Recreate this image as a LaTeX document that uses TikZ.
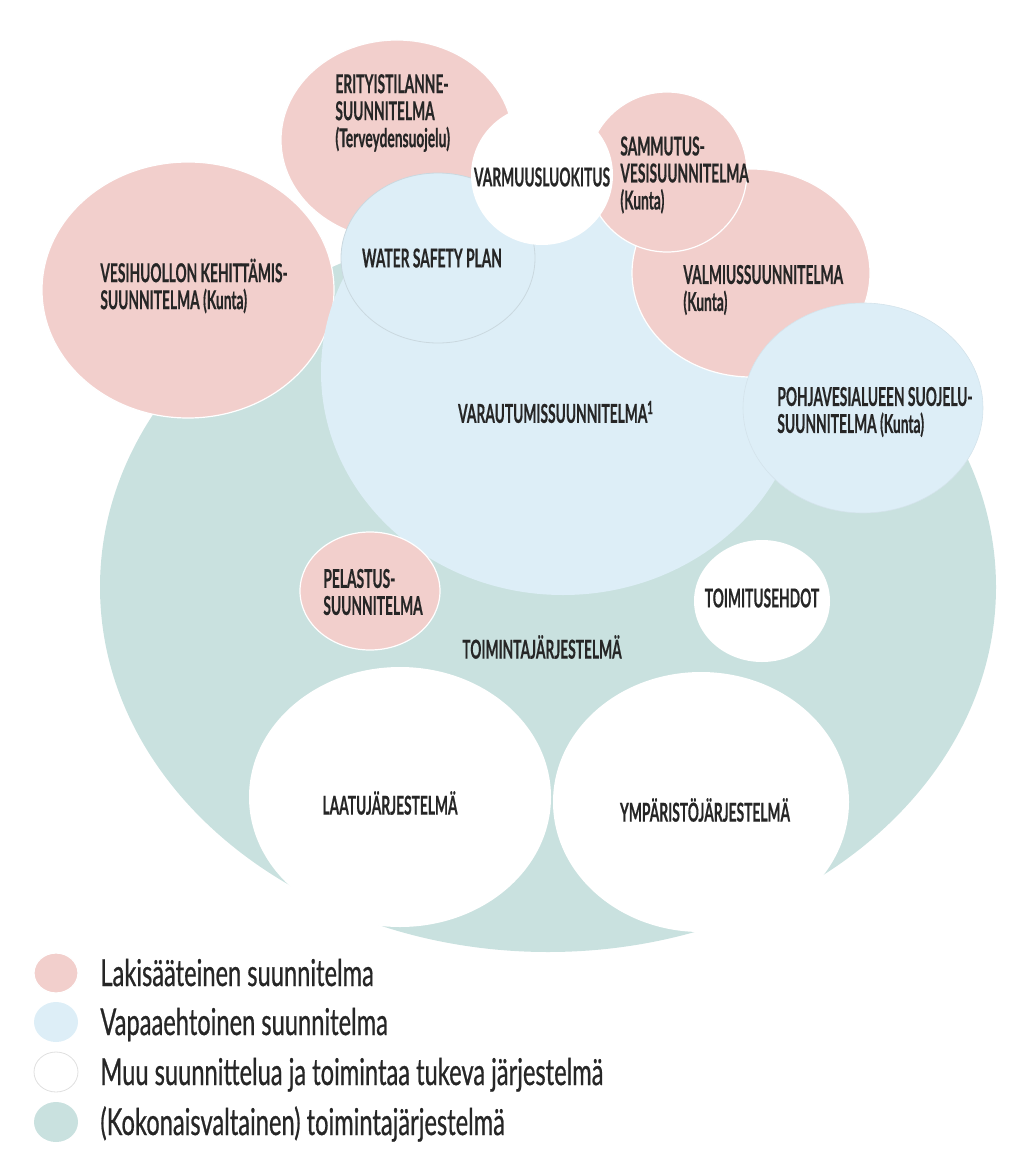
\documentclass[tikz,border=0pt]{standalone}
\usepackage{fontspec}
\newfontfamily\lblfont{Lato}[FakeStretch=0.53, FakeBold=0.4]
\newfontfamily\legfont{Lato}[FakeStretch=0.64, FakeBold=0.6]
\usepackage{tikz}
\usetikzlibrary{shapes.geometric}

\definecolor{lakipink}{HTML}{F2CFCC}
\definecolor{vapaablue}{HTML}{DDEEF7}
\definecolor{kokoteal}{HTML}{C9E1DF}
\definecolor{inkgray}{HTML}{262626}

\begin{document}
\begin{tikzpicture}[x=0.5pt, y=-0.5pt,
    bubble/.style 2 args={ellipse, inner sep=0pt, minimum width=#1pt, minimum height=#2pt},
    laki/.style={fill=lakipink, draw=white, line width=0.6pt},
    vapaa/.style={fill=vapaablue},
    muu/.style={fill=white},
    koko/.style={fill=kokoteal},
    lbl/.style={font=\lblfont\bfseries\fontsize{13}{13.5}\selectfont, text=inkgray, align=left, anchor=west, inner sep=0pt},
    ctr/.style={lbl, anchor=center, align=center},
    legtxt/.style={font=\legfont\fontsize{18.5}{20}\selectfont, text=inkgray, anchor=base west, inner sep=0pt}]
    \useasboundingbox (0,0) rectangle (1024,1172);
    % bubbles, back to front
    \path
        node at (548,587) [bubble={448}{365}, koko] (toiminta) {}
        node at (188,290) [bubble={146}{128}, laki] (vesihuolto) {}
        node at (563,372) [bubble={242}{223}, vapaa] (varautumis) {}
        node at (397,140) [bubble={116}{100}, laki] (erityis) {}
        node at (438,258) [bubble={97}{85}, vapaa, draw=vapaablue!80!gray, line width=0.4pt] (wsp) {}
        node at (751,273) [bubble={119}{104}, laki] (valmius) {}
        node at (667,172) [bubble={80}{80}, laki] (sammutus) {}
        node at (542,175) [bubble={71}{70}, muu] (varmuus) {}
        node at (863,408) [bubble={120}{105}, vapaa, draw=vapaablue!90!gray, line width=0.3pt] (pohjavesi) {}
        node at (370,591) [bubble={70}{59}, laki] (pelastus) {}
        node at (762,601) [bubble={68}{61}, muu] (toimitus) {}
        node at (400,797) [bubble={151}{130}, muu] (laatu) {}
        node at (701,802) [bubble={148}{130}, muu] (ymparisto) {};
    \path
        node at (335,113) [lbl] (erityis-txt) {ERITYISTILANNE-\\SUUNNITELMA\\(Terveydensuojelu)}
        node at (542,177) [ctr] (varmuus-txt) {VARMUUSLUOKITUS}
        node at (620,175) [lbl] (sammutus-txt) {SAMMUTUS-\\VESISUUNNITELMA\\(Kunta)}
        node at (432,258) [ctr] (wsp-txt) {WATER SAFETY PLAN}
        node at (100,286) [lbl] (vesihuolto-txt) {VESIHUOLLON KEHITTÄMIS-\\SUUNNITELMA (Kunta)}
        node at (683,290) [lbl] (valmius-txt) {VALMIUSSUUNNITELMA\\(Kunta)}
        node at (556,412) [ctr] (varautumis-txt) {VARAUTUMISSUUNNITELMA\textsuperscript{1}}
        node at (777,412) [lbl] (pohjavesi-txt) {POHJAVESIALUEEN SUOJELU-\\SUUNNITELMA (Kunta)}
        node at (323,592) [lbl] (pelastus-txt) {PELASTUS-\\SUUNNITELMA}
        node at (542,647) [ctr] (toiminta-txt) {TOIMINTAJÄRJESTELMÄ}
        node at (762,598) [ctr] (toimitus-txt) {TOIMITUSEHDOT}
        node at (390,803) [ctr] (laatu-txt) {LAATUJÄRJESTELMÄ}
        node at (705,810) [ctr] (ymparisto-txt) {YMPÄRISTÖJÄRJESTELMÄ};
    % legend
    \path
        node at (56,973)  [bubble={22}{20}, laki] (leg-laki) {}
        node at (56,1022) [bubble={22}{20}, vapaa] (leg-vapaa) {}
        node at (56,1072) [bubble={22}{20}, muu, draw=black!12, line width=0.4pt] (leg-muu) {}
        node at (56,1122) [bubble={22}{20}, koko] (leg-koko) {};
    \path
        node at (100,986)  [legtxt] (leg-laki-txt) {Lakisääteinen suunnitelma}
        node at (100,1035) [legtxt] (leg-vapaa-txt) {Vapaaehtoinen suunnitelma}
        node at (100,1085) [legtxt] (leg-muu-txt) {Muu suunnittelua ja toimintaa tukeva järjestelmä}
        node at (100,1135) [legtxt] (leg-koko-txt) {(Kokonaisvaltainen) toimintajärjestelmä};
\end{tikzpicture}
\end{document}
